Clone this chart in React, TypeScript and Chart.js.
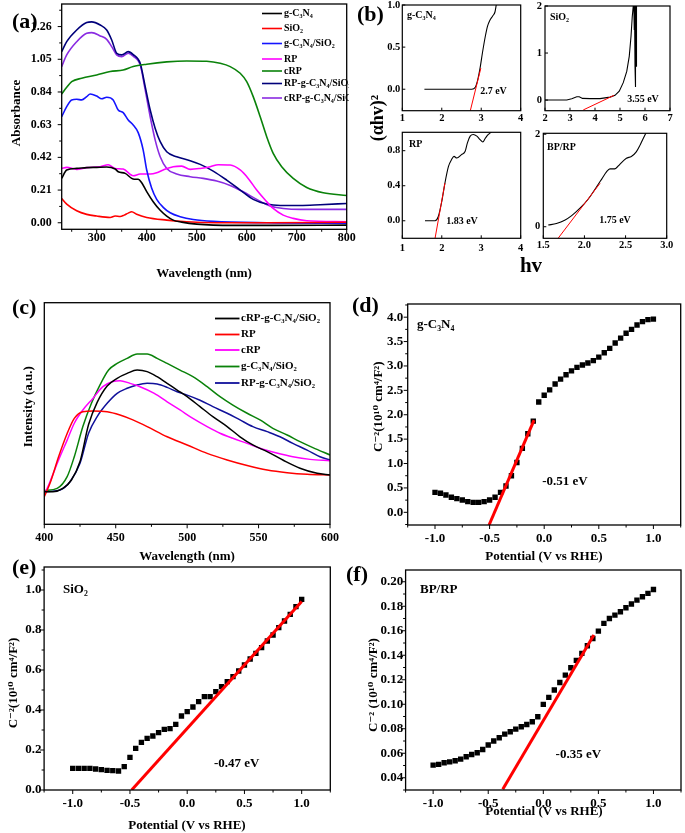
import { useEffect, useRef } from 'react';
import { Chart, registerables } from 'chart.js';

Chart.register(...registerables);

const PAGE_W = 685;
const PAGE_H = 833;
const AX = 40;
const SERIF = "'Liberation Serif', 'Times New Roman', 'DejaVu Serif', serif";

// ---------------- (a) UV-vis absorbance ----------------
const A_LABELS = ['g-C₃N₄', 'SiO₂', 'g-C₃N₄/SiO₂', 'RP', 'cRP', 'RP-g-C₃N₄/SiO₂', 'cRP-g-C₃N₄/SiO₂'];
const A_COLORS = ['#000000', '#ff0000', '#1414ff', '#ff00ff', '#0a820a', '#00007a', '#8a2be2'];
const A_GCN_X = [230, 240, 260, 280, 300, 320, 337, 343, 357, 370, 375, 383, 390, 400, 413, 427, 440, 453, 470, 500, 573, 650, 800];
const A_GCN_Y = [0.285, 0.339, 0.349, 0.354, 0.356, 0.358, 0.345, 0.328, 0.317, 0.285, 0.279, 0.279, 0.257, 0.2, 0.135, 0.08, 0.043, 0.017, 0.004, -0.009, -0.017, -0.017, -0.015];
const A_SIO_X = [230, 240, 260, 280, 300, 327, 337, 347, 355, 363, 370, 380, 400, 440, 480, 540, 640, 800];
const A_SIO_Y = [0.156, 0.12, 0.077, 0.054, 0.043, 0.034, 0.043, 0.04, 0.049, 0.062, 0.071, 0.054, 0.034, 0.017, 0.006, 0.0, 0.0, 0.003];
const A_GCNS_X = [230, 240, 250, 260, 270, 280, 287, 300, 310, 320, 333, 343, 353, 363, 373, 383, 393, 400, 410, 420, 433, 447, 467, 493, 533, 640, 800];
const A_GCNS_Y = [0.681, 0.746, 0.789, 0.793, 0.789, 0.81, 0.827, 0.814, 0.796, 0.806, 0.789, 0.724, 0.707, 0.66, 0.628, 0.579, 0.467, 0.339, 0.221, 0.15, 0.099, 0.064, 0.039, 0.021, 0.009, 0.0, -0.003];
const A_RP_X = [230, 240, 260, 280, 307, 323, 337, 353, 373, 387, 407, 420, 433, 453, 470, 487, 507, 527, 543, 567, 587, 603, 620, 637, 653, 673, 693, 720, 800];
const A_RP_Y = [0.349, 0.356, 0.343, 0.354, 0.36, 0.373, 0.349, 0.345, 0.302, 0.313, 0.313, 0.321, 0.339, 0.36, 0.364, 0.343, 0.349, 0.36, 0.373, 0.371, 0.339, 0.285, 0.21, 0.146, 0.092, 0.049, 0.028, 0.013, 0.006];
const A_CRP_X = [230, 240, 250, 270, 300, 327, 353, 373, 400, 440, 480, 520, 547, 567, 587, 600, 613, 627, 640, 653, 670, 693, 720, 753, 800];
const A_CRP_Y = [0.827, 0.87, 0.906, 0.928, 0.949, 0.971, 0.981, 1.003, 1.018, 1.033, 1.039, 1.037, 1.024, 1.003, 0.96, 0.906, 0.81, 0.681, 0.553, 0.446, 0.36, 0.285, 0.227, 0.193, 0.175];
const A_RPC_X = [230, 240, 260, 280, 290, 307, 320, 330, 340, 350, 363, 373, 387, 397, 407, 417, 427, 440, 460, 487, 507, 533, 560, 587, 613, 640, 667, 707, 747, 800];
const A_RPC_Y = [1.099, 1.163, 1.238, 1.286, 1.29, 1.27, 1.238, 1.174, 1.089, 1.078, 1.099, 1.08, 1.024, 0.874, 0.724, 0.606, 0.521, 0.456, 0.424, 0.399, 0.375, 0.332, 0.274, 0.21, 0.15, 0.12, 0.111, 0.111, 0.116, 0.124];
const A_CRPC_X = [230, 240, 260, 280, 290, 307, 320, 330, 340, 350, 363, 373, 387, 397, 407, 417, 427, 440, 460, 487, 513, 540, 567, 593, 620, 647, 673, 707, 800];
const A_CRPC_Y = [1.003, 1.078, 1.163, 1.217, 1.221, 1.2, 1.178, 1.131, 1.078, 1.067, 1.089, 1.07, 1.014, 0.853, 0.681, 0.531, 0.424, 0.349, 0.313, 0.296, 0.285, 0.268, 0.24, 0.199, 0.15, 0.107, 0.092, 0.086, 0.086];
const A_X_TICKS = [300, 400, 500, 600, 700, 800];
const A_Y_TICKS = [0, 0.21, 0.42, 0.63, 0.84, 1.05, 1.26];

// ---------------- (b) Tauc plots ----------------
const B_GCN_X = [1.56, 2.0, 2.5, 2.76, 2.85, 2.9, 2.97, 3.03, 3.1, 3.16, 3.22, 3.29, 3.35, 3.38, 3.4];
const B_GCN_Y = [0, 0, 0, 0, 0.024, 0.09, 0.25, 0.43, 0.62, 0.75, 0.82, 0.87, 0.92, 1.0, 1.06];
const B_GCN_FIT_X = [2.715, 2.99];
const B_GCN_FIT_Y = [-0.27, 0.25];
const B_SIO_X = [2.0, 2.87, 3.07, 3.27, 3.37, 3.5, 3.8, 4.2, 4.6, 4.8, 4.97, 5.13, 5.27, 5.37, 5.44, 5.49, 5.53, 5.55, 5.57, 5.58, 5.6, 5.61, 5.62, 5.63, 5.64, 5.66];
const B_SIO_Y = [0, 0, 0.03, 0.07, 0.07, 0.035, 0.03, 0.03, 0.063, 0.1, 0.19, 0.37, 0.61, 0.93, 1.35, 1.77, 2.0, 2.1, 1.5, 2.1, 0.72, 2.1, 0.28, 2.1, 0.72, 2.1];
const B_SIO_FIT_X = [3.53, 4.76];
const B_SIO_FIT_Y = [-0.21, 0.1];
const B_RP_X = [1.575, 1.83, 1.91, 2.0, 2.08, 2.17, 2.25, 2.31, 2.38, 2.5, 2.59, 2.65, 2.72, 2.8, 2.89, 2.97, 3.04, 3.1, 3.18, 3.22, 3.3];
const B_RP_Y = [0, 0, 0.046, 0.22, 0.43, 0.62, 0.7, 0.735, 0.716, 0.755, 0.79, 0.89, 0.966, 0.985, 0.966, 0.927, 0.9, 0.939, 0.985, 1.0, 1.03];
const B_RP_FIT_X = [1.83, 2.08];
const B_RP_FIT_Y = [-0.2, 0.43];
const B_BP_X = [1.56, 1.66, 1.76, 1.845, 1.946, 2.047, 2.15, 2.21, 2.27, 2.31, 2.35, 2.38, 2.43, 2.51, 2.57, 2.63, 2.68, 2.74, 2.77];
const B_BP_Y = [0.036, 0.07, 0.14, 0.24, 0.4, 0.6, 0.87, 1.03, 1.19, 1.25, 1.25, 1.26, 1.35, 1.48, 1.52, 1.62, 1.78, 2.0, 2.1];
const B_BP_FIT_X = [1.68, 2.19];
const B_BP_FIT_Y = [-0.25, 0.94];
const B_TL_X_TICKS = [1, 2, 3, 4];
const B_TL_Y_TICKS = [0, 0.5, 1.0];
const B_TR_X_TICKS = [2, 3, 4, 5, 6, 7];
const B_TR_Y_TICKS = [0, 1, 2];
const B_BL_X_TICKS = [1, 2, 3, 4];
const B_BL_Y_TICKS = [0, 0.4, 0.8];
const B_BR_X_TICKS = [1.5, 2.0, 2.5, 3.0];
const B_BR_Y_TICKS = [0, 2];

// ---------------- (c) PL spectra ----------------
const C_LABELS = ['cRP-g-C₃N₄/SiO₂', 'RP', 'cRP', 'g-C₃N₄/SiO₂', 'RP-g-C₃N₄/SiO₂'];
const C_COLORS = ['#000000', '#ff0000', '#ff00ff', '#0a820a', '#10109a'];
const C_CRPC_X = [400, 406, 413, 419, 425, 431, 437, 444, 451, 458, 465, 472, 479, 486, 493, 500, 509, 518, 528, 537, 546, 556, 567, 579, 591, 600];
const C_CRPC_Y = [14.7, 14.7, 16.2, 20, 28.3, 45, 55, 62.4, 65.9, 68.1, 69.6, 68.9, 66.6, 63.6, 60.6, 57.6, 53.1, 48.6, 44.1, 39.5, 35.8, 32.8, 29, 25.3, 23, 22.3];
const C_RP_X = [400, 404, 410, 416, 421, 427, 434, 444, 453, 462, 472, 486, 500, 514, 528, 542, 556, 570, 584, 600];
const C_RP_Y = [12.5, 18.5, 30.5, 41, 47.8, 50.8, 51.1, 50.8, 49.3, 47.1, 44.1, 39.5, 35.8, 32, 29, 26.5, 24.5, 23.3, 22.6, 22.3];
const C_CRP_X = [400, 404, 410, 416, 421, 427, 434, 441, 448, 453, 460, 467, 477, 486, 495, 504, 514, 523, 532, 542, 551, 562, 574, 586, 600];
const C_CRP_Y = [13.2, 19.2, 29, 38, 45.6, 51.6, 56.8, 62.1, 64.4, 64.8, 63.6, 62.1, 59.1, 55.3, 51.6, 47.8, 44.1, 41.1, 38.8, 36.5, 34.3, 32.3, 30.5, 29.3, 28.7];
const C_GCNS_X = [400, 409, 416, 421, 427, 433, 439, 445, 451, 458, 465, 472, 479, 486, 495, 504, 514, 523, 532, 542, 551, 560, 570, 579, 588, 600];
const C_GCNS_Y = [15.2, 16.2, 21.5, 30.5, 44.1, 54.6, 62.9, 69.6, 72.6, 74.9, 76.8, 76.8, 74.9, 72.6, 69.6, 66.6, 62.1, 57.6, 53.8, 50.1, 47.1, 43.3, 40.3, 37.3, 34.6, 31.3];
const C_RPC_X = [400, 411, 418, 425, 431, 437, 444, 451, 458, 465, 472, 479, 486, 493, 500, 509, 518, 528, 537, 546, 556, 565, 574, 584, 593, 600];
const C_RPC_Y = [14.7, 15.5, 19.2, 27.5, 41.1, 48.6, 54.6, 59.1, 61.4, 62.9, 63.6, 63.3, 61.8, 59.8, 58.3, 56, 53.1, 50.1, 47.1, 44.1, 41.8, 39.5, 36.5, 33.5, 30.5, 29];
const C_X_TICKS = [400, 450, 500, 550, 600];

// ---------------- (d)(e)(f) Mott-Schottky ----------------
const POT_X = [-1.0, -0.95, -0.9, -0.85, -0.8, -0.75, -0.7, -0.65, -0.6, -0.55, -0.5, -0.45, -0.4, -0.35, -0.3, -0.25, -0.2, -0.15, -0.1, -0.05, 0.0, 0.05, 0.1, 0.15, 0.2, 0.25, 0.3, 0.35, 0.4, 0.45, 0.5, 0.55, 0.6, 0.65, 0.7, 0.75, 0.8, 0.85, 0.9, 0.95, 1.0];
const D_Y = [0.41, 0.39, 0.356, 0.31, 0.28, 0.253, 0.219, 0.205, 0.205, 0.219, 0.253, 0.31, 0.41, 0.54, 0.75, 1.02, 1.31, 1.61, 1.87, 2.26, 2.4, 2.51, 2.63, 2.73, 2.82, 2.9, 2.97, 3.02, 3.06, 3.11, 3.18, 3.27, 3.36, 3.47, 3.57, 3.67, 3.75, 3.84, 3.91, 3.95, 3.96];
const D_FIT_X = [-0.505, -0.093];
const D_FIT_Y = [-0.26, 1.89];
const D_Y_TICKS = [0, 0.5, 1.0, 1.5, 2.0, 2.5, 3.0, 3.5, 4.0];
const E_Y = [0.108, 0.108, 0.108, 0.108, 0.105, 0.102, 0.098, 0.097, 0.095, 0.117, 0.163, 0.208, 0.238, 0.258, 0.27, 0.287, 0.303, 0.307, 0.328, 0.37, 0.392, 0.415, 0.442, 0.467, 0.467, 0.492, 0.517, 0.542, 0.567, 0.595, 0.625, 0.655, 0.683, 0.712, 0.745, 0.775, 0.812, 0.845, 0.878, 0.917, 0.953];
const E_FIT_X = [-0.485, 1.0];
const E_FIT_Y = [0, 0.942];
const E_Y_TICKS = [0, 0.2, 0.4, 0.6, 0.8, 1.0];
const F_Y = [0.0503, 0.0509, 0.0522, 0.053, 0.0539, 0.0552, 0.0571, 0.059, 0.0604, 0.0631, 0.0667, 0.07, 0.0727, 0.0756, 0.0776, 0.0797, 0.0816, 0.0835, 0.0857, 0.0898, 0.0999, 0.1056, 0.1116, 0.1178, 0.1238, 0.1298, 0.1358, 0.1415, 0.1478, 0.1537, 0.1597, 0.166, 0.17, 0.1728, 0.1755, 0.1788, 0.1818, 0.185, 0.1878, 0.1905, 0.1937];
const F_FIT_X = [-0.368, 0.459];
const F_FIT_Y = [0.0307, 0.1565];
const F_Y_TICKS = [0.04, 0.06, 0.08, 0.1, 0.12, 0.14, 0.16, 0.18, 0.2];
const POT_TICKS = [-1.0, -0.5, 0.0, 0.5, 1.0];
const MS_TITLE = 'C⁻²(10¹⁰ cm⁴/F²)';
const MS_TITLE_F = 'C⁻² (10¹⁰ cm⁴/F²)';
const POT_TITLE = 'Potential (V vs RHE)';

// ---------------- helpers ----------------
const mids = (arr: number[], min: number, max: number) => {
  const step = arr[1] - arr[0];
  const out = [arr[0] - step / 2, ...arr.map((v) => v + step / 2)];
  return out.filter((v) => v >= min - 1e-9 && v <= max + 1e-9);
};

const figPlugin = {
  id: 'fig',
  afterDatasetsDraw(chart: any, _a: any, o: any) {
    const { ctx, chartArea: a } = chart;
    ctx.save();
    ctx.strokeStyle = '#000';
    ctx.lineWidth = o.frame ?? 1.3;
    ctx.strokeRect(a.left, a.top, a.right - a.left, a.bottom - a.top);
    ctx.lineWidth = 1;
    for (const tk of o.ticks ?? []) {
      const sc = chart.scales[tk.axis];
      for (const v of tk.values) {
        const p = sc.getPixelForValue(v);
        if (tk.axis === 'x') {
          if (p < a.left - 0.5 || p > a.right + 0.5) continue;
          ctx.beginPath();
          ctx.moveTo(p, a.bottom);
          ctx.lineTo(p, a.bottom + tk.dir * tk.len);
          ctx.stroke();
        } else {
          if (p < a.top - 0.5 || p > a.bottom + 0.5) continue;
          ctx.beginPath();
          ctx.moveTo(a.left, p);
          ctx.lineTo(a.left - tk.dir * tk.len, p);
          ctx.stroke();
        }
      }
    }
    ctx.restore();
  },
  afterDraw(chart: any, _a: any, o: any) {
    const ctx = chart.ctx;
    ctx.save();
    ctx.textBaseline = 'middle';
    const lg = o.legend;
    if (lg) {
      ctx.save();
      ctx.beginPath();
      ctx.rect(0, 0, lg.clipX, PAGE_H);
      ctx.clip();
      lg.ys.forEach((y: number, i: number) => {
        const ds = chart.data.datasets[i];
        ctx.strokeStyle = ds.borderColor;
        ctx.lineWidth = lg.lw;
        ctx.beginPath();
        ctx.moveTo(lg.x1, y);
        ctx.lineTo(lg.x2, y);
        ctx.stroke();
        ctx.fillStyle = '#000';
        ctx.font = `bold ${lg.size}px ${SERIF}`;
        ctx.textAlign = 'left';
        ctx.fillText(ds.label, lg.tx, y);
      });
      ctx.restore();
    }
    for (const t of o.texts ?? []) {
      ctx.save();
      ctx.fillStyle = '#000';
      ctx.font = `bold ${t.s}px ${SERIF}`;
      ctx.textAlign = t.a ?? 'center';
      ctx.translate(t.x, t.y);
      if (t.r) ctx.rotate(-Math.PI / 2);
      ctx.fillText(t.t, 0, 0);
      ctx.restore();
    }
    ctx.restore();
  },
};

const axis = (min: number, max: number, ticks: number[], fmt: (v: number) => string, size: number, pad: number, isX: boolean, show = true) => ({
  type: 'linear',
  min,
  max,
  grid: { display: false, drawTicks: false },
  border: { display: false },
  afterBuildTicks: (s: any) => {
    s.ticks = ticks.map((v) => ({ value: v }));
  },
  afterFit: (s: any) => {
    if (isX) s.height = AX;
    else s.width = AX;
    s.paddingLeft = 0;
    s.paddingRight = 0;
    s.paddingTop = 0;
    s.paddingBottom = 0;
  },
  ticks: {
    display: show,
    autoSkip: false,
    maxRotation: 0,
    minRotation: 0,
    padding: pad,
    color: '#000',
    font: { family: SERIF, size, weight: 'bold' },
    callback: (v: any) => fmt(Number(v)),
  },
});

const curve = (label: string, xs: number[], ys: number[], color: string, width: number, mono = true) => ({
  label,
  data: xs.map((x, i) => ({ x, y: ys[i] })),
  borderColor: color,
  backgroundColor: color,
  borderWidth: width,
  pointRadius: 0,
  fill: false,
  cubicInterpolationMode: mono ? 'monotone' : 'default',
  tension: 0,
  clip: 0,
});

const points = (label: string, xs: number[], ys: number[]) => ({
  label,
  data: xs.map((x, i) => ({ x, y: ys[i] })),
  showLine: false,
  pointStyle: 'rect',
  pointRadius: 3.8,
  borderWidth: 0,
  backgroundColor: '#000',
  borderColor: '#000',
});

type Box = { L: number; T: number; R: number; B: number };

const makeConfig = (p: any) => {
  const b: Box = p.box;
  return {
    type: 'line',
    data: { datasets: p.datasets },
    options: {
      responsive: false,
      animation: false,
      devicePixelRatio: 1,
      events: [],
      layout: { padding: { left: b.L - AX, top: b.T, right: PAGE_W - b.R, bottom: PAGE_H - b.B - AX } },
      plugins: { legend: { display: false }, tooltip: { enabled: false }, fig: p.fig },
      scales: {
        x: axis(p.x[0], p.x[1], p.xt, p.xf, p.fs, p.xpad, true),
        y: axis(p.y[0], p.y[1], p.yt, p.yf, p.fs, p.ypad, false, p.showY ?? true),
      },
    },
    plugins: [figPlugin],
  };
};

const f0 = (v: number) => v.toFixed(0);
const f1 = (v: number) => v.toFixed(1);
const f2 = (v: number) => v.toFixed(2);
const inTicks = (xt: number[], yt: number[]) => [
  { axis: 'x', values: xt, len: 3, dir: -1 },
  { axis: 'y', values: yt, len: 3, dir: -1 },
];

const buildConfigs = () => {
  const cfgs: any[] = [];
  // (a)
  cfgs.push(
    makeConfig({
      box: { L: 61.7, T: 4, R: 346.7, B: 229.3 },
      x: [230, 800],
      y: [-0.042, 1.405],
      xt: A_X_TICKS,
      yt: A_Y_TICKS,
      xf: f0,
      yf: f2,
      fs: 12,
      xpad: 1.5,
      ypad: 10,
      datasets: [
        curve(A_LABELS[0], A_GCN_X, A_GCN_Y, A_COLORS[0], 1.6),
        curve(A_LABELS[1], A_SIO_X, A_SIO_Y, A_COLORS[1], 1.6),
        curve(A_LABELS[2], A_GCNS_X, A_GCNS_Y, A_COLORS[2], 1.6),
        curve(A_LABELS[3], A_RP_X, A_RP_Y, A_COLORS[3], 1.6),
        curve(A_LABELS[4], A_CRP_X, A_CRP_Y, A_COLORS[4], 1.6),
        curve(A_LABELS[5], A_RPC_X, A_RPC_Y, A_COLORS[5], 1.6),
        curve(A_LABELS[6], A_CRPC_X, A_CRPC_Y, A_COLORS[6], 1.6),
      ],
      fig: {
        ticks: [
          { axis: 'x', values: A_X_TICKS, len: 4, dir: 1 },
          { axis: 'x', values: mids(A_X_TICKS, 230, 800), len: 2.5, dir: 1 },
          { axis: 'y', values: A_Y_TICKS, len: 4, dir: 1 },
          { axis: 'y', values: mids(A_Y_TICKS, -0.042, 1.405), len: 2.5, dir: 1 },
        ],
        legend: { x1: 262, x2: 282, tx: 284, ys: [13.5, 28.5, 43.5, 59, 71, 83.5, 98], size: 10, lw: 1.6, clipX: 349 },
        texts: [
          { t: '(a)', x: 12, y: 22, s: 22, a: 'left' },
          { t: 'Absorbance', x: 16.5, y: 113, s: 13, r: true },
          { t: 'Wavelength (nm)', x: 204, y: 274, s: 13 },
        ],
      },
    })
  );
  // (b) four Tauc plots
  cfgs.push(
    makeConfig({
      box: { L: 402.3, T: 5, R: 520.7, B: 110.7 },
      x: [1, 4],
      y: [-0.255, 1.0],
      xt: B_TL_X_TICKS,
      yt: B_TL_Y_TICKS,
      xf: f0,
      yf: f1,
      fs: 10.5,
      xpad: 1.5,
      ypad: 2,
      datasets: [
        curve('fit', B_GCN_FIT_X, B_GCN_FIT_Y, '#ff0000', 1, false),
        curve('g-C₃N₄', B_GCN_X, B_GCN_Y, '#000000', 1.1),
      ],
      fig: {
        frame: 1.2,
        ticks: inTicks(B_TL_X_TICKS, B_TL_Y_TICKS),
        texts: [
          { t: '(b)', x: 357, y: 15, s: 22, a: 'left' },
          { t: '(αhv)²', x: 378.5, y: 118, s: 18, r: true },
          { t: 'hv', x: 531, y: 267, s: 21 },
          { t: 'g-C₃N₄', x: 407, y: 15, s: 10, a: 'left' },
          { t: '2.7 eV', x: 493.5, y: 91, s: 10 },
        ],
      },
    })
  );
  cfgs.push(
    makeConfig({
      box: { L: 545, T: 6, R: 670, B: 110.7 },
      x: [2, 7],
      y: [-0.226, 2.0],
      xt: B_TR_X_TICKS,
      yt: B_TR_Y_TICKS,
      xf: f0,
      yf: f0,
      fs: 10.5,
      xpad: 1.5,
      ypad: 3,
      datasets: [
        curve('fit', B_SIO_FIT_X, B_SIO_FIT_Y, '#ff0000', 1, false),
        curve('SiO₂', B_SIO_X, B_SIO_Y, '#000000', 1.1, false),
      ],
      fig: {
        frame: 1.2,
        ticks: inTicks(B_TR_X_TICKS, B_TR_Y_TICKS),
        texts: [
          { t: 'SiO₂', x: 550, y: 17, s: 10, a: 'left' },
          { t: '3.55 eV', x: 643, y: 99.5, s: 10 },
        ],
      },
    })
  );
  cfgs.push(
    makeConfig({
      box: { L: 402.3, T: 132.3, R: 520.7, B: 238.3 },
      x: [1, 4],
      y: [-0.2, 1.01],
      xt: B_BL_X_TICKS,
      yt: B_BL_Y_TICKS,
      xf: f0,
      yf: f1,
      fs: 10.5,
      xpad: 3.5,
      ypad: 2,
      datasets: [
        curve('fit', B_RP_FIT_X, B_RP_FIT_Y, '#ff0000', 1, false),
        curve('RP', B_RP_X, B_RP_Y, '#000000', 1.1),
      ],
      fig: {
        frame: 1.2,
        ticks: inTicks(B_BL_X_TICKS, B_BL_Y_TICKS),
        texts: [
          { t: 'RP', x: 409, y: 144.5, s: 10, a: 'left' },
          { t: '1.83 eV', x: 462, y: 221.5, s: 10 },
        ],
      },
    })
  );
  cfgs.push(
    makeConfig({
      box: { L: 543.3, T: 133.3, R: 666.7, B: 238.3 },
      x: [1.5, 3.0],
      y: [-0.25, 2.02],
      xt: B_BR_X_TICKS,
      yt: B_BR_Y_TICKS,
      xf: f1,
      yf: f0,
      fs: 10.5,
      xpad: 1,
      ypad: 3,
      datasets: [
        curve('fit', B_BP_FIT_X, B_BP_FIT_Y, '#ff0000', 1, false),
        curve('BP/RP', B_BP_X, B_BP_Y, '#000000', 1.1),
      ],
      fig: {
        frame: 1.2,
        ticks: inTicks(B_BR_X_TICKS, B_BR_Y_TICKS),
        texts: [
          { t: 'BP/RP', x: 547, y: 147.5, s: 10, a: 'left' },
          { t: '1.75 eV', x: 615, y: 220, s: 10 },
        ],
      },
    })
  );
  // (c)
  cfgs.push(
    makeConfig({
      box: { L: 44.3, T: 302.7, R: 330, B: 524.3 },
      x: [400, 600],
      y: [0, 100],
      xt: C_X_TICKS,
      yt: [],
      xf: f0,
      yf: f0,
      fs: 12,
      xpad: 6.8,
      ypad: 2,
      showY: false,
      datasets: [
        curve(C_LABELS[0], C_CRPC_X, C_CRPC_Y, C_COLORS[0], 1.5),
        curve(C_LABELS[1], C_RP_X, C_RP_Y, C_COLORS[1], 1.5),
        curve(C_LABELS[2], C_CRP_X, C_CRP_Y, C_COLORS[2], 1.5),
        curve(C_LABELS[3], C_GCNS_X, C_GCNS_Y, C_COLORS[3], 1.5),
        curve(C_LABELS[4], C_RPC_X, C_RPC_Y, C_COLORS[4], 1.5),
      ],
      fig: {
        ticks: [
          { axis: 'x', values: C_X_TICKS, len: 4, dir: 1 },
          { axis: 'x', values: mids(C_X_TICKS, 400, 600), len: 2.5, dir: 1 },
        ],
        legend: { x1: 215, x2: 239.5, tx: 241, ys: [318.5, 334.5, 350, 366.5, 383], size: 11, lw: 1.8, clipX: 685 },
        texts: [
          { t: '(c)', x: 12, y: 308, s: 22, a: 'left' },
          { t: 'Intensity (a.u.)', x: 28.3, y: 406.7, s: 13, r: true },
          { t: 'Wavelength (nm)', x: 187, y: 557, s: 13 },
        ],
      },
    })
  );
  const msTicks = (yt: number[], ymin: number, ymax: number) => [
    { axis: 'x', values: POT_TICKS, len: 4, dir: 1 },
    { axis: 'x', values: mids(POT_TICKS, -1.25, 1.25), len: 2.5, dir: 1 },
    { axis: 'y', values: yt, len: 4, dir: 1 },
    { axis: 'y', values: mids(yt, ymin, ymax), len: 2.5, dir: 1 },
  ];
  // (d)
  cfgs.push(
    makeConfig({
      box: { L: 407.7, T: 304, R: 680.7, B: 525 },
      x: [-1.25, 1.25],
      y: [-0.26, 4.27],
      xt: POT_TICKS,
      yt: D_Y_TICKS,
      xf: f1,
      yf: f1,
      fs: 13,
      xpad: 5.5,
      ypad: 4.4,
      datasets: [
        curve('fit', D_FIT_X, D_FIT_Y, '#ff0000', 3, false),
        points('g-C₃N₄', POT_X, D_Y),
      ],
      fig: {
        ticks: msTicks(D_Y_TICKS, -0.26, 4.27),
        texts: [
          { t: '(d)', x: 352, y: 306, s: 22, a: 'left' },
          { t: 'g-C₃N₄', x: 417, y: 325, s: 13, a: 'left' },
          { t: '-0.51 eV', x: 565, y: 482, s: 13 },
          { t: MS_TITLE, x: 378.3, y: 406.7, s: 13, r: true },
          { t: POT_TITLE, x: 544, y: 557, s: 13 },
        ],
      },
    })
  );
  // (e)
  cfgs.push(
    makeConfig({
      box: { L: 44.1, T: 567, R: 330.3, B: 790 },
      x: [-1.25, 1.25],
      y: [0, 1.115],
      xt: POT_TICKS,
      yt: E_Y_TICKS,
      xf: f1,
      yf: f1,
      fs: 13,
      xpad: 5.5,
      ypad: 2.5,
      datasets: [
        curve('fit', E_FIT_X, E_FIT_Y, '#ff0000', 3, false),
        points('SiO₂', POT_X, E_Y),
      ],
      fig: {
        ticks: msTicks(E_Y_TICKS, 0, 1.115),
        texts: [
          { t: '(e)', x: 12, y: 568, s: 22, a: 'left' },
          { t: 'SiO₂', x: 63, y: 590, s: 13, a: 'left' },
          { t: '-0.47 eV', x: 236.7, y: 763.3, s: 13 },
          { t: MS_TITLE, x: 13.5, y: 683, s: 13, r: true },
          { t: POT_TITLE, x: 187, y: 826, s: 13 },
        ],
      },
    })
  );
  // (f)
  cfgs.push(
    makeConfig({
      box: { L: 405.6, T: 570, R: 682.7, B: 790 },
      x: [-1.25, 1.25],
      y: [0.03, 0.2096],
      xt: POT_TICKS,
      yt: F_Y_TICKS,
      xf: f1,
      yf: f2,
      fs: 13,
      xpad: 5.5,
      ypad: 2.3,
      datasets: [
        curve('fit', F_FIT_X, F_FIT_Y, '#ff0000', 3, false),
        points('BP/RP', POT_X, F_Y),
      ],
      fig: {
        ticks: msTicks(F_Y_TICKS, 0.03, 0.2096),
        texts: [
          { t: '(f)', x: 346, y: 575, s: 22, a: 'left' },
          { t: 'BP/RP', x: 420, y: 590, s: 13, a: 'left' },
          { t: '-0.35 eV', x: 578.3, y: 754.3, s: 13 },
          { t: MS_TITLE_F, x: 373.3, y: 685, s: 13, r: true },
          { t: POT_TITLE, x: 544, y: 812, s: 13 },
        ],
      },
    })
  );
  return cfgs;
};

export default function App() {
  const refs = useRef<(HTMLCanvasElement | null)[]>([]);
  useEffect(() => {
    const cfgs = buildConfigs();
    const charts = cfgs.map((c, i) => new Chart(refs.current[i] as HTMLCanvasElement, c as any));
    return () => charts.forEach((c) => c.destroy());
  }, []);
  return (
    <div style={{ position: 'absolute', left: 0, top: 0, width: PAGE_W, height: PAGE_H, background: '#fff', overflow: 'hidden' }}>
      {Array.from({ length: 9 }).map((_, i) => (
        <canvas
          key={i}
          ref={(el) => {
            refs.current[i] = el;
          }}
          width={PAGE_W}
          height={PAGE_H}
          style={{ position: 'absolute', left: 0, top: 0, width: PAGE_W, height: PAGE_H }}
        />
      ))}
    </div>
  );
}
